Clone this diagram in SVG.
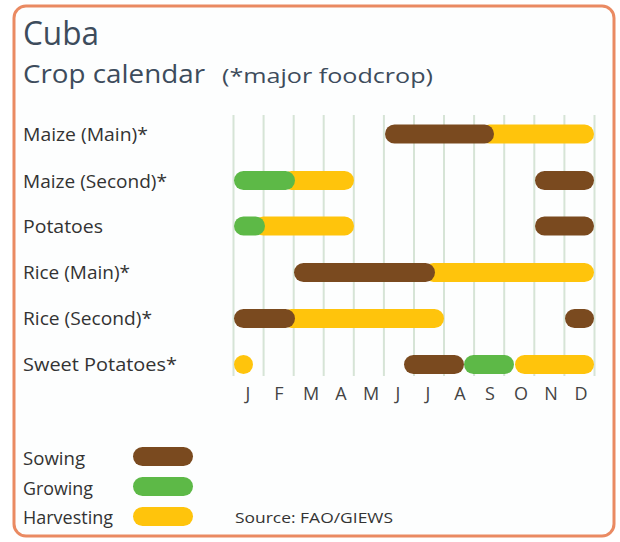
<svg xmlns="http://www.w3.org/2000/svg" width="620" height="542" viewBox="0 0 620 542">
<style>
.t{font-family:"Open Sans","Noto Sans","DejaVu Sans",sans-serif;fill:#333333}
.title{fill:#3d4c5c}
.lbl{font-size:19px}
.mon{font-size:18px;fill:#444444;text-anchor:middle}
.grid line{stroke:#d6e4d6;stroke-width:2}
.s{fill:#7a4a1f}
.g{fill:#5db947}
.h{fill:#ffc40c}
</style>
<rect x="14" y="6" width="600" height="530" rx="12" fill="#fdfefe" stroke="#ea8a62" stroke-width="3"/>
<g id="title">
<text class="t title" x="23" y="45" font-size="33" textLength="76" lengthAdjust="spacingAndGlyphs">Cuba</text>
<text class="t title" x="23" y="83" font-size="26" textLength="182" lengthAdjust="spacingAndGlyphs">Crop calendar</text>
<text class="t title" x="222" y="83" font-size="20" textLength="211" lengthAdjust="spacingAndGlyphs">(*major foodcrop)</text>
</g>
<g id="grid" class="grid">
<line x1="233.5" y1="115" x2="233.5" y2="376"/>
<line x1="263.6" y1="115" x2="263.6" y2="376"/>
<line x1="293.7" y1="115" x2="293.7" y2="376"/>
<line x1="323.7" y1="115" x2="323.7" y2="376"/>
<line x1="353.8" y1="115" x2="353.8" y2="376"/>
<line x1="383.9" y1="115" x2="383.9" y2="376"/>
<line x1="414" y1="115" x2="414" y2="376"/>
<line x1="444" y1="115" x2="444" y2="376"/>
<line x1="474.1" y1="115" x2="474.1" y2="376"/>
<line x1="504.2" y1="115" x2="504.2" y2="376"/>
<line x1="534.3" y1="115" x2="534.3" y2="376"/>
<line x1="564.4" y1="115" x2="564.4" y2="376"/>
<line x1="594.5" y1="115" x2="594.5" y2="376"/>
</g>
<g id="row-maize-main">
<text class="t lbl" x="23" y="141" textLength="125" lengthAdjust="spacingAndGlyphs">Maize (Main)*</text>
<rect class="h" x="480" y="124.5" width="114" height="19" rx="9.5"/>
<rect class="s" x="385" y="124.5" width="109" height="19" rx="9.5"/>
</g>
<g id="row-maize-second">
<text class="t lbl" x="23" y="187.5" textLength="144" lengthAdjust="spacingAndGlyphs">Maize (Second)*</text>
<rect class="h" x="282" y="171" width="72" height="19" rx="9.5"/>
<rect class="g" x="234" y="171" width="61" height="19" rx="9.5"/>
<rect class="s" x="535" y="171" width="59" height="19" rx="9.5"/>
</g>
<g id="row-potatoes">
<text class="t lbl" x="23" y="233" textLength="80" lengthAdjust="spacingAndGlyphs">Potatoes</text>
<rect class="h" x="254" y="216.5" width="100" height="19" rx="9.5"/>
<rect class="g" x="234" y="216.5" width="31" height="19" rx="9.5"/>
<rect class="s" x="535" y="216.5" width="59" height="19" rx="9.5"/>
</g>
<g id="row-rice-main">
<text class="t lbl" x="23" y="279" textLength="107" lengthAdjust="spacingAndGlyphs">Rice (Main)*</text>
<rect class="h" x="424" y="263" width="170" height="19" rx="9.5"/>
<rect class="s" x="294" y="263" width="141" height="19" rx="9.5"/>
</g>
<g id="row-rice-second">
<text class="t lbl" x="23" y="325" textLength="129" lengthAdjust="spacingAndGlyphs">Rice (Second)*</text>
<rect class="h" x="282" y="309" width="162" height="19" rx="9.5"/>
<rect class="s" x="234" y="309" width="61" height="19" rx="9.5"/>
<rect class="s" x="565" y="309" width="29" height="19" rx="9.5"/>
</g>
<g id="row-sweet-potatoes">
<text class="t lbl" x="23" y="371" textLength="154" lengthAdjust="spacingAndGlyphs">Sweet Potatoes*</text>
<circle class="h" cx="243.5" cy="364.5" r="9.5"/>
<rect class="s" x="404" y="355" width="60" height="19" rx="9.5"/>
<rect class="g" x="464" y="355" width="50" height="19" rx="9.5"/>
<rect class="h" x="515" y="355" width="79" height="19" rx="9.5"/>
</g>
<g id="months">
<text class="t mon" x="248" y="400">J</text>
<text class="t mon" x="279" y="400">F</text>
<text class="t mon" x="311" y="400">M</text>
<text class="t mon" x="341" y="400">A</text>
<text class="t mon" x="371" y="400">M</text>
<text class="t mon" x="398" y="400">J</text>
<text class="t mon" x="428" y="400">J</text>
<text class="t mon" x="460" y="400">A</text>
<text class="t mon" x="490" y="400">S</text>
<text class="t mon" x="521" y="400">O</text>
<text class="t mon" x="551" y="400">N</text>
<text class="t mon" x="581" y="400">D</text>
</g>
<g id="legend">
<text class="t" x="23" y="465" font-size="18" textLength="62" lengthAdjust="spacingAndGlyphs">Sowing</text>
<rect class="s" x="133" y="447" width="60" height="19" rx="9.5"/>
<text class="t" x="23" y="495" font-size="18" textLength="70" lengthAdjust="spacingAndGlyphs">Growing</text>
<rect class="g" x="133" y="477" width="60" height="19" rx="9.5"/>
<text class="t" x="23" y="524" font-size="18" textLength="90" lengthAdjust="spacingAndGlyphs">Harvesting</text>
<rect class="h" x="133" y="507" width="60" height="19" rx="9.5"/>
</g>
<g id="source">
<text class="t" x="235" y="523" font-size="15" textLength="158" lengthAdjust="spacingAndGlyphs">Source: FAO/GIEWS</text>
</g>
</svg>
